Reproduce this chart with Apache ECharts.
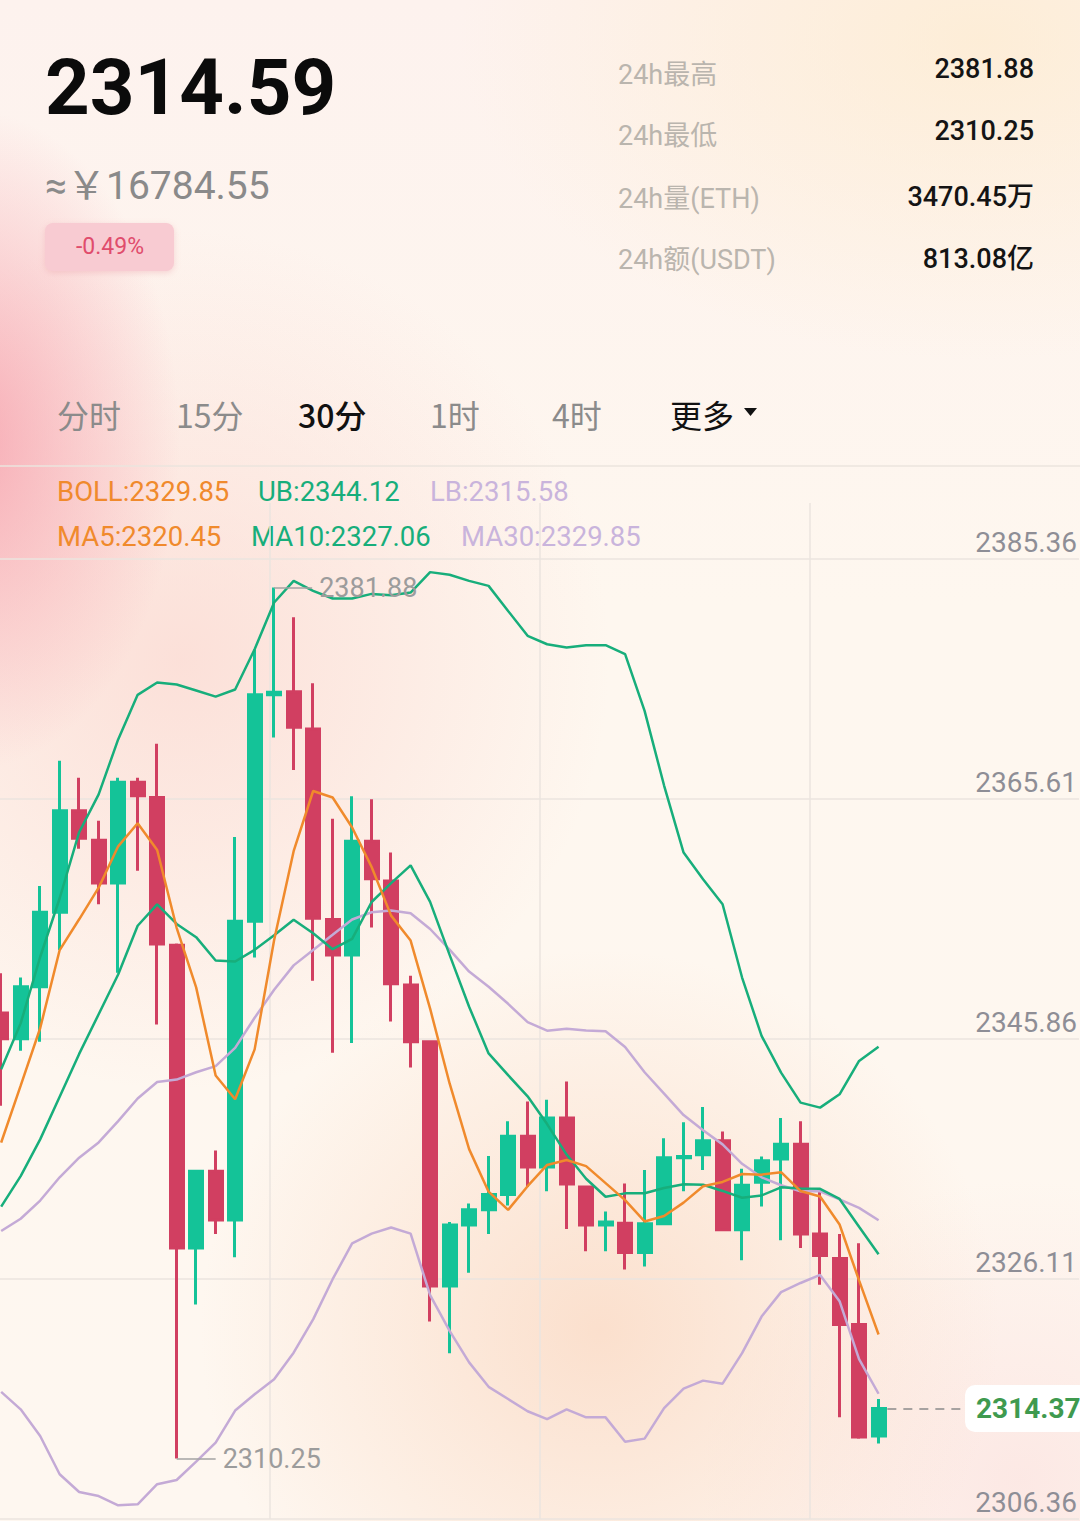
<!DOCTYPE html>
<html><head><meta charset="utf-8">
<script src="https://cdn.jsdelivr.net/npm/echarts@6/dist/echarts.min.js"></script>
<style>
html,body{margin:0;padding:0;width:1080px;height:1521px;overflow:hidden;}
body{
background:
 radial-gradient(ellipse 210px 330px at -30px 440px, rgba(246,160,172,0.85), rgba(246,160,172,0) 100%),
 radial-gradient(ellipse 430px 430px at 180px 660px, rgba(250,205,198,0.55), rgba(250,205,198,0) 100%),
 radial-gradient(ellipse 400px 380px at 600px 1330px, rgba(249,208,182,0.6), rgba(249,208,182,0) 100%),
 radial-gradient(ellipse 520px 320px at 980px 40px, rgba(253,234,200,0.6), rgba(253,234,200,0) 100%),
 radial-gradient(ellipse 320px 300px at 1020px 1480px, rgba(250,214,214,0.45), rgba(250,214,214,0) 100%),
 linear-gradient(180deg,#fdf2ee 0%,#fef7ef 40%,#fef7f0 100%);
}
#chart{width:1080px;height:1521px;}
</style></head><body><div id="chart"></div>
<script>
// ---- data ----
const opens  = [2346.89,2344.78,2349.05,2355.18,2363.52,2361.11,2357.59,2365.88,2364.62,2352.47,2327.56,2333.88,2329.87,2354.43,2373.06,2373.31,2370.25,2354.58,2351.66,2361.01,2357.74,2349.20,2344.53,2324.44,2329.46,2330.72,2331.97,2336.75,2334.23,2338.25,2332.58,2329.46,2329.61,2327.20,2329.56,2334.99,2335.24,2336.39,2329.06,2332.98,2334.89,2336.09,2328.71,2326.70,2321.28,2312.10];
const closes = [2344.78,2349.05,2355.18,2363.52,2361.26,2357.59,2365.88,2364.77,2352.57,2327.56,2333.88,2329.87,2354.43,2373.06,2373.28,2370.40,2354.68,2351.66,2361.01,2357.94,2349.30,2344.53,2324.44,2329.46,2330.72,2331.97,2336.75,2334.23,2338.25,2332.83,2329.46,2329.71,2327.20,2329.56,2334.99,2335.10,2336.39,2329.06,2332.73,2334.74,2336.09,2328.71,2326.95,2321.28,2312.03,2314.37];
const lows   = [2339.26,2343.78,2344.53,2352.07,2360.40,2355.83,2350.21,2358.59,2345.94,2310.25,2322.93,2328.71,2326.80,2351.46,2369.54,2366.88,2349.55,2343.63,2344.43,2353.92,2346.19,2342.42,2321.53,2318.92,2325.54,2328.71,2331.07,2332.58,2332.23,2329.12,2327.30,2327.30,2325.80,2326.05,2329.46,2332.23,2333.98,2328.96,2326.55,2330.97,2328.21,2327.56,2324.54,2313.65,2311.88,2311.48];
const highs  = [2350.16,2349.81,2357.34,2367.64,2366.23,2362.71,2366.23,2366.23,2369.04,2352.60,2333.98,2335.59,2361.36,2376.78,2381.88,2379.44,2374.01,2362.86,2364.72,2364.47,2360.10,2349.96,2344.60,2329.71,2331.22,2335.14,2338.00,2339.61,2339.76,2341.27,2332.65,2330.57,2332.88,2333.98,2336.60,2337.90,2339.16,2337.15,2334.08,2335.09,2338.25,2338.00,2332.23,2328.71,2327.96,2315.15];

const ma5  = [2336.24,2340.92,2345.64,2352.07,2354.60,2357.20,2360.60,2362.50,2360.30,2353.90,2349.00,2341.75,2339.80,2343.90,2352.90,2360.20,2365.15,2364.62,2362.15,2358.90,2354.90,2352.85,2347.25,2341.10,2335.70,2332.20,2330.70,2332.65,2334.40,2334.80,2334.30,2332.90,2331.50,2329.75,2330.20,2331.30,2332.65,2333.00,2333.65,2333.60,2333.80,2332.25,2331.80,2329.50,2324.90,2320.45];
const ma10 = [2330.97,2333.48,2336.50,2340.01,2343.53,2346.79,2350.06,2354.07,2355.83,2354.22,2353.13,2351.21,2351.13,2352.09,2353.29,2354.57,2353.45,2352.14,2352.99,2356.02,2357.57,2359.03,2356.03,2351.67,2347.41,2343.57,2341.78,2340.04,2337.76,2335.25,2333.26,2331.78,2332.06,2332.07,2332.50,2332.81,2332.77,2332.26,2331.70,2331.89,2332.56,2332.46,2332.43,2331.60,2329.31,2327.06];
const ma30 = [2328.96,2329.97,2331.47,2333.38,2334.99,2336.25,2338.00,2339.86,2341.22,2341.42,2342.02,2342.52,2344.03,2346.50,2348.80,2350.81,2352.07,2353.32,2354.58,2355.18,2355.33,2355.10,2353.80,2352.10,2350.30,2349.05,2347.65,2346.14,2345.44,2345.60,2345.45,2345.40,2344.10,2342.02,2340.26,2338.50,2337.25,2336.09,2334.49,2333.38,2332.73,2332.23,2332.23,2331.57,2330.87,2329.85];
const bollUB = [2342.27,2346.04,2351.50,2356.33,2361.76,2364.87,2369.39,2373.06,2374.07,2373.91,2373.41,2372.91,2373.50,2376.81,2380.65,2382.43,2381.61,2380.98,2380.98,2381.36,2381.25,2381.47,2383.15,2382.93,2382.43,2382.02,2379.96,2377.91,2377.22,2376.95,2377.14,2377.14,2376.40,2371.74,2365.60,2360.09,2357.89,2355.84,2349.81,2345.01,2341.99,2339.52,2339.11,2340.21,2342.95,2344.12];
const bollLB = [2315.73,2314.30,2312.11,2308.96,2307.50,2307.17,2306.41,2306.49,2308.14,2308.49,2310.00,2311.56,2314.20,2315.54,2316.77,2318.96,2321.70,2325.00,2327.95,2328.75,2329.25,2328.75,2323.69,2320.75,2318.16,2316.15,2315.15,2314.14,2313.49,2314.30,2313.64,2313.64,2311.63,2311.89,2314.40,2316.00,2316.66,2316.41,2318.92,2321.93,2323.94,2324.69,2325.35,2323.19,2318.42,2315.58];

const yTickLabels = ['2306.36','2326.11','2345.86','2365.61','2385.36'];

const lastPrice = '2314.59';
const cnyPrice = '≈￥16784.55';
const changePct = '-0.49%';
const statLabels = ['24h最高','24h最低','24h量(ETH)','24h额(USDT)'];
const statValues = ['2381.88','2310.25','3470.45万','813.08亿'];
const tabLabels = ['分时','15分','30分','1时','4时','更多'];
const activeTab = 2;

// ---- chart ----
const C_UP = '#14c398', C_DOWN = '#d13f61';
const C_ORANGE = '#f08a2c', C_GREEN = '#17ae7b', C_PURPLE = '#c4aad6';
const FN = 'Roboto, "Noto Sans CJK SC", sans-serif';
const FC = '"Noto Sans CJK SC", Roboto, sans-serif';
const last = a => a[a.length - 1];
const candleData = opens.map((o, i) => [i, o, closes[i], lows[i], highs[i]]);
const toLine = arr => arr.map((v, i) => [i, v]);
const hiIdx = highs.indexOf(Math.max(...highs));
const loIdx = lows.indexOf(Math.min(...lows));
const lastIdx = closes.length - 1;
const lastClose = closes[lastIdx];

function txt(x, y, text, font, fill, align) {
  return {type:'text', x:x, y:y, silent:true,
    style:{text:text, font:font, fill:fill, align:align||'left', textAlign:align||'left',
           verticalAlign:'middle', textVerticalAlign:'middle'}};
}
const graphics = [];
graphics.push(txt(45, 87, lastPrice, 'bold 78px Roboto', '#0b0b0b'));
graphics.push(txt(45, 186, cnyPrice, '39px ' + FN, '#8a8a8a'));
graphics.push({type:'rect', shape:{x:45, y:223, width:129, height:48, r:8}, silent:true,
  style:{fill:'#f8cbd2', shadowBlur:6, shadowColor:'rgba(230,150,160,0.35)', shadowOffsetY:2}});
graphics.push(txt(110, 246, changePct, '23px ' + FN, '#e04c6c', 'center'));
const labY = [75, 136, 199, 260], valY = [69, 131, 197, 259];
statLabels.forEach((s, i) => graphics.push(txt(618, labY[i], s, '27px ' + FN, '#bab5ae')));
statValues.forEach((s, i) => graphics.push(txt(1034, valY[i], s, '500 27px ' + FN, '#141414', 'right')));
const tabX = [57, 176, 298, 430, 552, 670];
tabLabels.forEach((s, i) => {
  const dark = (i === activeTab || i === tabLabels.length - 1);
  graphics.push(txt(tabX[i], 414, s, (i === activeTab ? '500 ' : '') + '32px ' + FC, dark ? '#111111' : '#8b8b8b'));
});
graphics.push({type:'polygon', shape:{points:[[744,408],[757,408],[750.5,416]]}, silent:true, style:{fill:'#111'}});
graphics.push({type:'line', shape:{x1:0, y1:466, x2:1080, y2:466}, silent:true, style:{stroke:'#ebe4de', lineWidth:1.5}});
const legendRows = [
  [[57, 'BOLL:' + last(ma30).toFixed(2), C_ORANGE], [258, 'UB:' + last(bollUB).toFixed(2), C_GREEN], [430, 'LB:' + last(bollLB).toFixed(2), '#c9b4dc']],
  [[57, 'MA5:' + last(ma5).toFixed(2), C_ORANGE], [251, 'MA10:' + last(ma10).toFixed(2), C_GREEN], [461, 'MA30:' + last(ma30).toFixed(2), '#c9b4dc']]
];
legendRows.forEach((row, r) => row.forEach(it => graphics.push(txt(it[0], r ? 536 : 491, it[1], '27.5px ' + FN, it[2]))));

const annLabel = {show:true, position:'end', color:'#9c9c9c', fontSize:27, fontFamily:FN, distance:7};
const annLine = {color:'#a3a3a3', width:1.5, type:'solid'};

const lineSeries = (arr, color) => ({type:'line', xAxisIndex:0, yAxisIndex:0, data:toLine(arr), symbol:'none',
  silent:true, z:3, lineStyle:{color:color, width:2.5}, emphasis:{disabled:true}});

const option = {
  animation:false,
  backgroundColor:'transparent',
  grid:[{left:0, right:0, top:559, bottom:2}, {left:0, right:0, top:503, bottom:2}],
  xAxis:[
    {type:'value', gridIndex:0, min:-0.06, max:55.28, show:false},
    {type:'value', gridIndex:1, min:0, max:4, interval:1, axisLine:{show:false}, axisTick:{show:false}, axisLabel:{show:false},
     splitLine:{show:true, showMinLine:false, showMaxLine:false, lineStyle:{color:'#ebe5df', width:1.5}}}
  ],
  yAxis:[
    {type:'value', gridIndex:0, min:2305.28, max:2384.23, show:false},
    {type:'value', gridIndex:0, min:0, max:4, interval:1, position:'right', axisLine:{show:false}, axisTick:{show:false},
     splitLine:{show:true, lineStyle:{color:'#ebe5df', width:1.5}},
     axisLabel:{inside:true, formatter:v => yTickLabels[Math.round(v)], color:'#8e8e96', fontSize:28, fontFamily:FN,
                verticalAlign:'bottom', margin:2, padding:[0,0,3,0]}},
    {type:'value', gridIndex:1, min:0, max:1, show:false}
  ],
  graphic:graphics,
  series:[
    {type:'candlestick', xAxisIndex:0, yAxisIndex:0, data:candleData, encode:{x:0, y:[1,2,3,4]},
     barWidth:13.5, z:2, silent:true, emphasis:{disabled:true},
     itemStyle:{color:C_UP, color0:C_DOWN, borderColor:C_UP, borderColor0:C_DOWN, borderWidth:3},
     markLine:{symbol:['none','none'], silent:true, animation:false, emphasis:{disabled:true},
       data:[
         [{coord:[hiIdx, highs[hiIdx]], lineStyle:annLine, label:Object.assign({formatter:highs[hiIdx].toFixed(2)}, annLabel)},
          {coord:[hiIdx + 1.95, highs[hiIdx]]}],
         [{coord:[loIdx, lows[loIdx]], lineStyle:annLine, label:Object.assign({formatter:lows[loIdx].toFixed(2)}, annLabel)},
          {coord:[loIdx + 2.0, lows[loIdx]]}],
         [{coord:[lastIdx + 0.45, lastClose], lineStyle:{color:'#8a8a8a', width:1.5, type:[9,7]},
           label:{show:true, position:'end', formatter:lastClose.toFixed(2), color:'#3f9a4f', fontWeight:'bold', fontSize:28,
                  fontFamily:FN, backgroundColor:'#ffffff', borderRadius:10, padding:[10,8,9,11], distance:4}},
          {coord:[lastIdx + 4.23, lastClose]}]
       ]}
    },
    lineSeries(ma30, C_PURPLE),
    lineSeries(bollLB, C_PURPLE),
    lineSeries(bollUB, C_GREEN),
    lineSeries(ma10, C_GREEN),
    lineSeries(ma5, C_ORANGE)
  ]
};
const chart = echarts.init(document.getElementById('chart'), null, {renderer:'svg', width:1080, height:1521});
chart.setOption(option);
</script>
</body></html>
